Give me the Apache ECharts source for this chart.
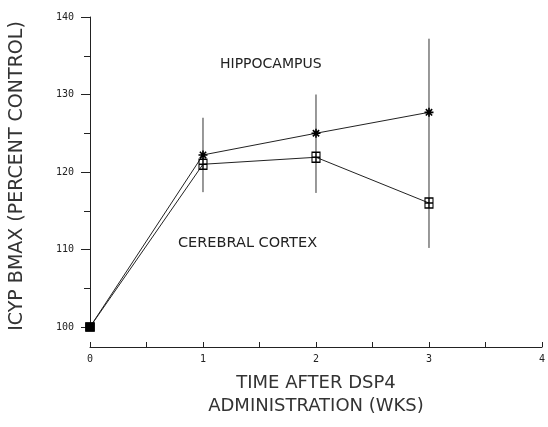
<!DOCTYPE html>
<html><head><meta charset="utf-8">
<script src="https://cdn.jsdelivr.net/npm/echarts@6/dist/echarts.min.js"></script>
<style>html,body{margin:0;padding:0;background:#fff}#c{width:548px;height:427px}</style>
</head><body><div id="c"></div>
<script>
const weeks = [0, 1, 2, 3];
const hippocampus = [100, 122.2, 125.0, 127.7];
const cortex = [100, 121.0, 121.9, 116.0];
const errHigh = [100, 127.0, 130.0, 137.2];
const errLow = [100, 117.4, 117.3, 110.2];
const yTicks = [100, 110, 120, 130, 140];
const xTicks = [0, 1, 2, 3, 4];

const starPath = 'path://M0,5L10,5M5,0L5,10M1.5,1.5L8.5,8.5M8.5,1.5L1.5,8.5';
const boxPath = 'path://M0,0L10,0L10,10L0,10Z M5,0L5,10 M0,5L10,5';
const font = "'DejaVu Sans', sans-serif";
const mono = "'DejaVu Sans Mono', monospace";

function seriesData(vals) {
  return weeks.map((w, i) => i === 0
    ? { value: [w, vals[i]], symbol: 'rect', symbolSize: 8, itemStyle: { color: '#000', borderColor: '#000' } }
    : { value: [w, vals[i]] });
}

const chart = echarts.init(document.getElementById('c'), null, { renderer: 'canvas' });
chart.setOption({
  animation: false,
  backgroundColor: '#fff',
  grid: { left: 89, right: 6, top: 17, bottom: 100 },
  xAxis: {
    type: 'value', min: xTicks[0], max: xTicks[xTicks.length - 1], interval: 1,
    offset: 20,
    axisLine: { show: true, lineStyle: { color: '#222', width: 1 } },
    axisTick: { show: true, inside: true, length: 5, lineStyle: { color: '#222' } },
    minorTick: { show: true, splitNumber: 2, length: 5, lineStyle: { color: '#222' } },
    splitLine: { show: false },
    axisLabel: { fontFamily: mono, fontSize: 10, color: '#222', margin: 7 },
    name: 'TIME AFTER DSP4\nADMINISTRATION (WKS)',
    nameLocation: 'middle', nameGap: 25,
    nameTextStyle: { fontFamily: font, fontSize: 18, color: '#333', lineHeight: 23 }
  },
  yAxis: {
    type: 'value', min: yTicks[0], max: yTicks[yTicks.length - 1], interval: 10,
    axisLine: { show: true, lineStyle: { color: '#222', width: 1 } },
    axisTick: { show: true, length: 9, lineStyle: { color: '#222' } },
    minorTick: { show: true, splitNumber: 2, length: 6, lineStyle: { color: '#222' } },
    splitLine: { show: false },
    axisLabel: { fontFamily: mono, fontSize: 10, color: '#222', margin: 16 },
    name: 'ICYP BMAX (PERCENT CONTROL)',
    nameLocation: 'middle', nameRotate: 90, nameGap: 63,
    nameTextStyle: { fontFamily: font, fontSize: 19, color: '#333', padding: [0, 0, 0, -8] }
  },
  series: [
    {
      type: 'custom',
      data: weeks.map((w, i) => [w, errLow[i], errHigh[i]]),
      renderItem: function (params, api) {
        const p1 = api.coord([api.value(0), api.value(1)]);
        const p2 = api.coord([api.value(0), api.value(2)]);
        return { type: 'line', shape: { x1: p1[0], y1: p1[1], x2: p2[0], y2: p2[1] },
          style: { stroke: '#333', lineWidth: 1 } };
      },
      z: 1
    },
    {
      name: 'HIPPOCAMPUS', type: 'line', data: seriesData(hippocampus),
      symbol: starPath, symbolSize: 9,
      lineStyle: { color: '#222', width: 1 },
      itemStyle: { color: 'none', borderColor: '#000', borderWidth: 1.6 },
      z: 3
    },
    {
      name: 'CEREBRAL CORTEX', type: 'line', data: seriesData(cortex),
      symbol: boxPath, symbolSize: [8, 10],
      lineStyle: { color: '#222', width: 1 },
      itemStyle: { color: 'none', borderColor: '#000', borderWidth: 1.2 },
      z: 3
    }
  ],
  graphic: [
    { type: 'text', left: 220, top: 57, style: { text: 'HIPPOCAMPUS', font: '14px ' + font, fill: '#222' } },
    { type: 'text', left: 178, top: 236, style: { text: 'CEREBRAL CORTEX', font: '14.5px ' + font, fill: '#222' } }
  ]
});
</script></body></html>
